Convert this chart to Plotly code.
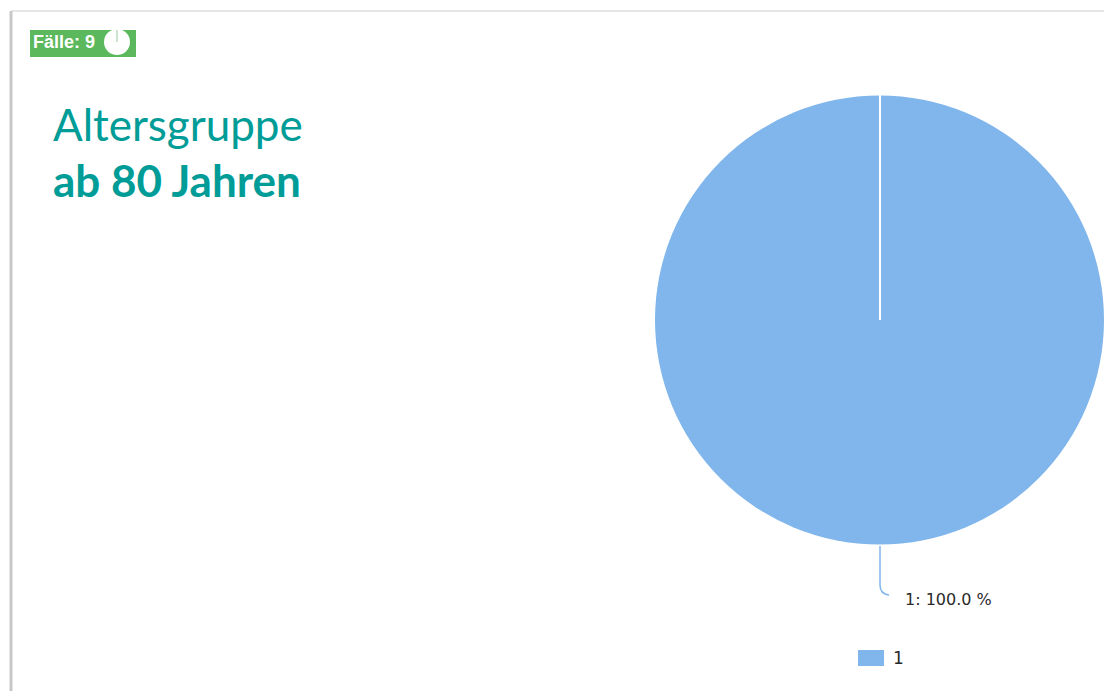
import plotly.graph_objects as go

labels = ["1"]
values = [9]
cases = 9
title_line1 = "Altersgruppe"
title_line2 = "ab 80 Jahren"
slice_color = "#80B6EB"
teal = "#009C97"

W, H = 1104, 691
def px(x): return min(1.0, x / W)
def py(y): return 1 - y / H

pct = [v / sum(values) * 100 for v in values]

fig = go.Figure(go.Pie(
    labels=labels, values=values, sort=False, direction="clockwise", rotation=0,
    marker=dict(colors=[slice_color], line=dict(color="white", width=0)),
    textinfo="none", hoverinfo="label+percent",
    domain=dict(x=[px(655), 1.0], y=[py(545), py(95)]),
    showlegend=False,
))

shapes = [
    # card border / shadow
    dict(type="line", xref="paper", yref="paper", x0=px(11), x1=1, y0=py(11), y1=py(11),
         line=dict(color="#e6e6e6", width=2)),
    dict(type="line", xref="paper", yref="paper", x0=px(11), x1=px(11), y0=py(11), y1=0,
         line=dict(color="#c8c8c8", width=3)),
    # separator line of the single slice (centre to top)
    dict(type="line", xref="paper", yref="paper", x0=px(880), x1=px(880), y0=py(320), y1=py(95),
         line=dict(color="white", width=2)),
    # leader line
    dict(type="path", xref="paper", yref="paper",
         path=f"M {px(880)},{py(546)} L {px(880)},{py(585)} Q {px(880)},{py(594)} {px(889)},{py(595)}",
         line=dict(color="#80B6EB", width=1.5)),
    # badge
    dict(type="rect", xref="paper", yref="paper", x0=px(30), x1=px(136), y0=py(57), y1=py(30),
         fillcolor="#5CB85C", line=dict(width=0)),
    dict(type="circle", xref="paper", yref="paper", x0=px(104), x1=px(130), y0=py(55), y1=py(29),
         fillcolor="white", line=dict(width=0)),
    dict(type="line", xref="paper", yref="paper", x0=px(117), x1=px(117), y0=py(42), y1=py(30),
         line=dict(color="#9bc99b", width=1)),
    # legend swatch
    dict(type="rect", xref="paper", yref="paper", x0=px(858), x1=px(884), y0=py(666), y1=py(650),
         fillcolor=slice_color, line=dict(width=0)),
]

annotations = [
    dict(text=f"<b>Fälle: {cases}</b>", x=px(31), y=py(42), xref="paper", yref="paper",
         xanchor="left", yanchor="middle", showarrow=False,
         font=dict(family="Liberation Sans, Arial", size=18, color="white")),
    dict(text=title_line1, x=px(51), y=py(124), xref="paper", yref="paper",
         xanchor="left", yanchor="middle", showarrow=False,
         font=dict(family="Lato", size=44, color=teal)),
    dict(text=f"<b>{title_line2}</b>", x=px(51), y=py(180), xref="paper", yref="paper",
         xanchor="left", yanchor="middle", showarrow=False,
         font=dict(family="Lato", size=44, color=teal)),
    dict(text=f"{labels[0]}: {pct[0]:.1f} %", x=px(903), y=py(599), xref="paper", yref="paper",
         xanchor="left", yanchor="middle", showarrow=False,
         font=dict(family="DejaVu Sans", size=16, color="#2a2a2a")),
    dict(text=f"{labels[0]}", x=px(891), y=py(658), xref="paper", yref="paper",
         xanchor="left", yanchor="middle", showarrow=False,
         font=dict(family="DejaVu Sans", size=17, color="#2a2a2a")),
]

fig.update_layout(
    width=W, height=H,
    margin=dict(l=0, r=0, t=0, b=0),
    paper_bgcolor="white", plot_bgcolor="white",
    shapes=shapes, annotations=annotations,
    showlegend=False,
)

fig.write_html("out.html", config={"displayModeBar": False},
               post_script="document.body.style.margin='0';document.body.style.overflow='hidden';")
